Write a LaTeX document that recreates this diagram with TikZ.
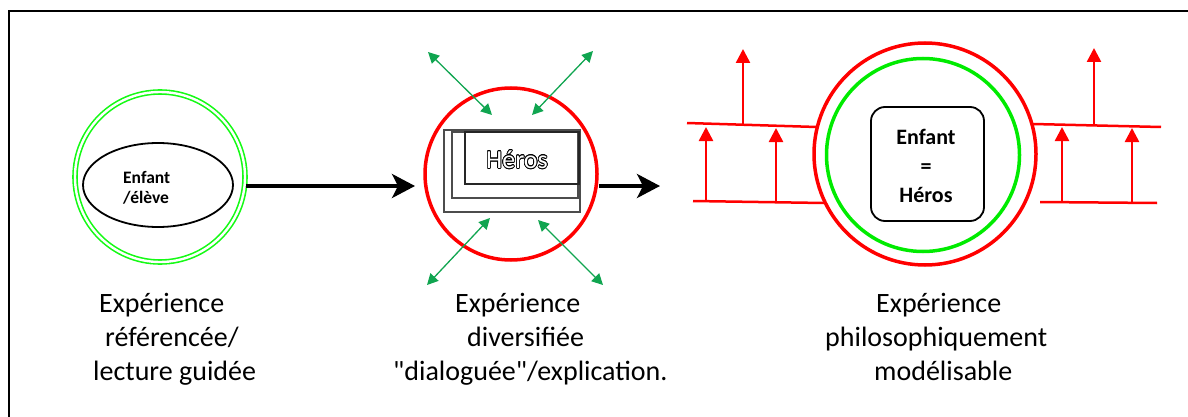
\documentclass[tikz,border=0pt]{standalone}
\usepackage{fontspec}
\setmainfont{Carlito}
\newfontfamily\rawfont{Carlito}[Ligatures=TeXOff]
\usepackage{contour}
\contourlength{0.8pt}
\usetikzlibrary{arrows.meta,shapes.geometric}
\definecolor{lgreen}{RGB}{20,250,20}
\definecolor{cgreen}{RGB}{0,235,0}
\definecolor{agreen}{RGB}{16,165,80}
\definecolor{rred}{RGB}{255,0,0}
\tikzset{
  bigarrow/.style={line width=3.5pt, -{Stealth[length=23pt,width=24pt,inset=6pt]}},
  garrow/.style={agreen, line width=1.3pt, {Triangle[length=11pt,width=11pt]}-{Triangle[length=11pt,width=11pt]}},
  rarrow/.style={rred, line width=2.5pt, -{Triangle[length=14pt,width=14pt]}},
  rline/.style={rred, line width=2.5pt},
  herobox/.style={draw=black!70, line width=1.6pt},
  caption/.style={anchor=base west, inner sep=0pt, font=\fontsize{28}{34}\selectfont},
}
\begin{document}
\begin{tikzpicture}[x=1pt,y=-1pt]
\useasboundingbox (0,0) rectangle (1188,417);
% frame
\coordinate (fa) at (1188,11);
\coordinate (fb) at (9,11);
\coordinate (fc) at (9,417);
\draw[line width=2.2pt] (fa) -- (fb) -- (fc);

% ---------- left ----------
\node[circle, draw=lgreen, double=white, double distance=2.4pt, line width=1.6pt, minimum size=170pt, inner sep=0pt] (c1) at (160,177) {};
\node[ellipse, draw, line width=1.8pt, minimum width=150pt, minimum height=84pt, inner sep=0pt] (e1) at (158,185) {};
\node[anchor=west, align=left, inner sep=0pt, font=\bfseries\fontsize{17.5}{20}\selectfont] (t1) at (123,188) {Enfant\\/élève};

% ---------- middle ----------
\node[circle, draw=rred, line width=3.5pt, minimum size=172pt, inner sep=0pt] (c2) at (511,174) {};
\draw[herobox] (444,130) rectangle (580,212);
\draw[herobox] (452,132) rectangle (578,198);
\draw[herobox, draw=black!85] (465,132) rectangle (579,184);
\node[font=\fontsize{26}{30}\selectfont, inner sep=0pt] (hero) at (517,160) {\contour{black}{\textcolor{white}{Héros}}};

\coordinate (g1a) at (428,52);  \coordinate (g1b) at (492,115);
\coordinate (g2a) at (593,51);  \coordinate (g2b) at (532,115);
\coordinate (g3a) at (490,218); \coordinate (g3b) at (427,285);
\coordinate (g4a) at (538,220); \coordinate (g4b) at (603,285);
\draw[garrow] (g1a) -- (g1b);
\draw[garrow] (g2a) -- (g2b);
\draw[garrow] (g3a) -- (g3b);
\draw[garrow] (g4a) -- (g4b);

% connectors
\coordinate (a1) at (415,186);
\coordinate (a2) at (660,186);
\draw[bigarrow] (c1.east |- a1) -- (a1);
\draw[bigarrow] (c2.east |- a2) -- (a2);

% ---------- right ----------
\node[circle, draw=rred, line width=3.5pt, minimum size=222pt, inner sep=0pt] (c3) at (925,154) {};
\node[circle, draw=cgreen, line width=3.5pt, minimum size=193pt, inner sep=0pt] (c4) at (923,155) {};
\node[draw, line width=1.8pt, rounded corners=14pt, minimum width=113pt, minimum height=114pt, inner sep=0pt] (box) at (927.5,164) {};
\node[align=center, inner sep=0pt, font=\bfseries\fontsize{22}{29}\selectfont] (t3) at (926,166) {Enfant\\=\\Héros};

% red band lines
\coordinate (l1a) at (687,123);  \coordinate (l1b) at (817,127);
\coordinate (l2a) at (693,201);  \coordinate (l2b) at (824,203);
\coordinate (r1a) at (1033,124); \coordinate (r1b) at (1161,127);
\coordinate (r2a) at (1040,202); \coordinate (r2b) at (1157,203);
\draw[rline] (l1a) -- (l1b);
\draw[rline] (l2a) -- (l2b);
\draw[rline] (r1a) -- (r1b);
\draw[rline] (r2a) -- (r2b);

% red arrows
\coordinate (p1a) at (743,125);  \coordinate (p1b) at (743,49);
\coordinate (p2a) at (706,201);  \coordinate (p2b) at (706,127);
\coordinate (p3a) at (776,202);  \coordinate (p3b) at (776,128);
\coordinate (q1a) at (1094,125); \coordinate (q1b) at (1094,48);
\coordinate (q2a) at (1062,202); \coordinate (q2b) at (1062,127);
\coordinate (q3a) at (1132,203); \coordinate (q3b) at (1132,128);
\draw[rarrow] (p1a) -- (p1b);
\draw[rarrow] (p2a) -- (p2b);
\draw[rarrow] (p3a) -- (p3b);
\draw[rarrow] (q1a) -- (q1b);
\draw[rarrow] (q2a) -- (q2b);
\draw[rarrow] (q3a) -- (q3b);

% ---------- captions ----------
\node[caption] (L1) at (99,312)  {Expérience};
\node[caption] (L2) at (105,346) {référencée/};
\node[caption] (L3) at (93,380)  {lecture guidée};
\node[caption] (M1) at (455,312) {Expérience};
\node[caption] (M2) at (467,346) {diversifiée};
\node[caption] (M3) at (393,380) {\rawfont "dialoguée"/explication.};
\node[caption] (R1) at (876,312) {Expérience};
\node[caption] (R2) at (825,346) {philosophiquement};
\node[caption] (R3) at (874,380) {modélisable};
\end{tikzpicture}
\end{document}
